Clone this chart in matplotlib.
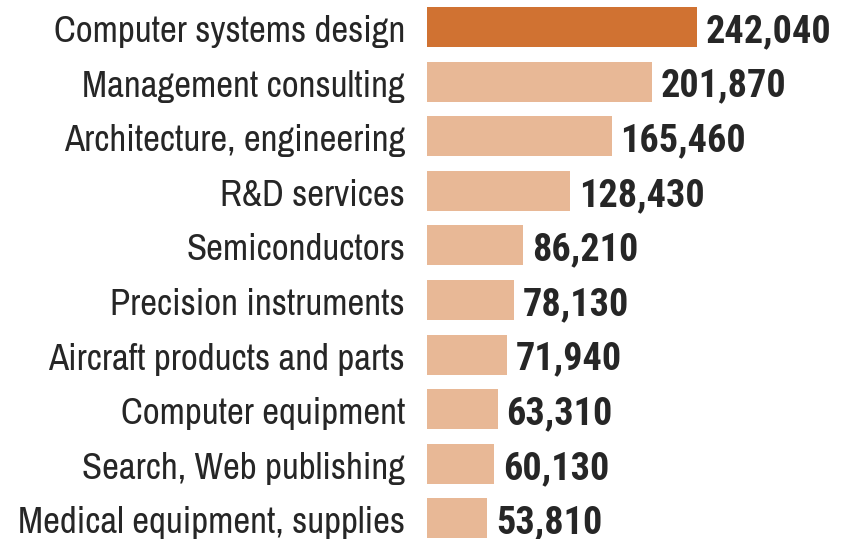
import matplotlib
matplotlib.use("Agg")
import matplotlib.pyplot as plt

# data
categories = [
    "Computer systems design",
    "Management consulting",
    "Architecture, engineering",
    "R&D services",
    "Semiconductors",
    "Precision instruments",
    "Aircraft products and parts",
    "Computer equipment",
    "Search, Web publishing",
    "Medical equipment, supplies",
]
values = [242040, 201870, 165460, 128430, 86210, 78130, 71940, 63310, 60130, 53810]

DARK = "#D07232"
LIGHT = "#E8B896"
TEXT = "#262626"
LABEL_FONT = ["Archivo Narrow", "Roboto Condensed", "DejaVu Sans"]
VALUE_FONT = ["Roboto Condensed", "DejaVu Sans"]

W, H = 853, 539
fig = plt.figure(figsize=(W / 100, H / 100), dpi=100)
ax = fig.add_axes([427 / W, 0, 1 - 427 / W, 1])

pos = list(range(len(categories)))
colors = [DARK] + [LIGHT] * (len(values) - 1)
ax.barh(pos, values, height=0.73, color=colors)

# pixel -> data mapping: bar centers at 27 + 54.6*i px
ax.set_ylim((H - 27) / 54.6, -27 / 54.6)
ax.set_xlim(0, 382000)
ax.set_xticks([])
ax.set_yticks([])
for s in ax.spines.values():
    s.set_visible(False)

PX = 72 / 100  # points per pixel
for p, name, v in zip(pos, categories, values):
    # baseline sits ~15 px below the bar centre
    ax.annotate(name, (0, p), xytext=(-22 * PX, -15 * PX), textcoords="offset points",
                ha="right", va="baseline", fontsize=26.5, family=LABEL_FONT,
                color=TEXT, annotation_clip=False)
    ax.annotate(f"{v:,}", (v, p), xytext=(9 * PX, -15 * PX), textcoords="offset points",
                ha="left", va="baseline", fontsize=27.5, fontweight="bold",
                family=VALUE_FONT, color=TEXT)

fig.savefig("out.png", dpi=100)
